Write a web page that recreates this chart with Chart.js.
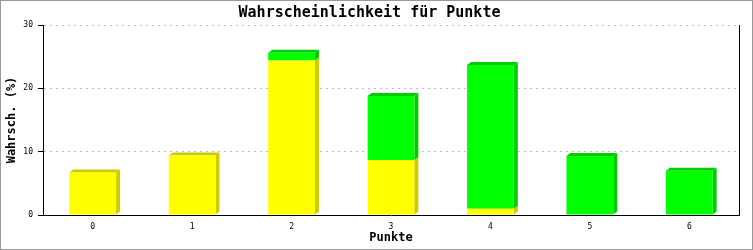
<!DOCTYPE html>
<html>
<head>
<meta charset="utf-8">
<script src="https://cdn.jsdelivr.net/npm/chart.js@4/dist/chart.umd.min.js"></script>
<style>
  body { margin: 0; background: #fff; }
</style>
</head>
<body>
<canvas id="myChart" width="753" height="250"></canvas>
<script>
// data
const categories = ['0', '1', '2', '3', '4', '5', '6'];
const yellowValues = [6.7, 9.4, 24.4, 8.7, 1.0, null, null];
const greenValues = [null, null, 1.2, 10.1, 22.7, 9.3, 7.0];
const yTicks = [0, 10, 20, 30];

const MONO = '"DejaVu Sans Mono", "Liberation Mono", monospace';
const sideColors = ['#cccc00', '#00cc00'];

// white background + grey frame
const frame = {
  id: 'frame',
  beforeDraw(chart) {
    const ctx = chart.ctx;
    ctx.save();
    ctx.fillStyle = '#fff';
    ctx.fillRect(0, 0, chart.width, chart.height);
    ctx.restore();
  },
  afterDraw(chart) {
    const ctx = chart.ctx;
    ctx.save();
    ctx.strokeStyle = '#999';
    ctx.lineWidth = 1;
    ctx.strokeRect(0.5, 0.5, chart.width - 1, chart.height - 1);
    ctx.restore();
  }
};

// fake 3d: side + top faces behind the bar fronts
const bars3d = {
  id: 'bars3d',
  beforeDatasetsDraw(chart) {
    const ctx = chart.ctx;
    const dx = 4, dy = -3;
    ctx.save();
    for (let i = 0; i < categories.length; i++) {
      let topIdx = -1;
      chart.data.datasets.forEach((ds, d) => { if (ds.data[i]) topIdx = d; });
      chart.data.datasets.forEach((ds, d) => {
        if (!ds.data[i]) return;
        const el = chart.getDatasetMeta(d).data[i];
        const p = el.getProps(['x', 'y', 'base', 'width'], true);
        const left = p.x - p.width / 2, right = p.x + p.width / 2;
        const top = Math.min(p.y, p.base), bottom = Math.max(p.y, p.base);
        ctx.fillStyle = sideColors[d];
        ctx.beginPath();
        ctx.moveTo(right, top);
        ctx.lineTo(right + dx, top + dy);
        ctx.lineTo(right + dx, bottom + dy);
        ctx.lineTo(right, bottom);
        ctx.closePath();
        ctx.fill();
        if (d === topIdx) {
          ctx.beginPath();
          ctx.moveTo(left, top);
          ctx.lineTo(left + dx, top + dy);
          ctx.lineTo(right + dx, top + dy);
          ctx.lineTo(right, top);
          ctx.closePath();
          ctx.fill();
        }
      });
    }
    ctx.restore();
  }
};

new Chart(document.getElementById('myChart'), {
  type: 'bar',
  data: {
    labels: categories,
    datasets: [
      { data: yellowValues, backgroundColor: '#ffff00', borderWidth: 0 },
      { data: greenValues, backgroundColor: '#00ff00', borderWidth: 0 }
    ]
  },
  options: {
    responsive: false,
    animation: false,
    devicePixelRatio: 1,
    layout: { padding: { left: 0, right: 14, top: 0, bottom: 0 } },
    datasets: { bar: { categoryPercentage: 1, barPercentage: 0.47 } },
    plugins: {
      legend: { display: false },
      tooltip: { enabled: false },
      title: {
        display: true,
        text: 'Wahrscheinlichkeit für Punkte',
        color: '#000',
        font: { family: MONO, size: 15, weight: 'bold' },
        padding: { top: 4, bottom: 3 }
      }
    },
    scales: {
      x: {
        stacked: true,
        grid: { display: false, drawTicks: false },
        border: { display: true, color: '#000', width: 1 },
        ticks: { color: '#000', font: { family: MONO, size: 8 }, padding: 7, maxRotation: 0 },
        title: {
          display: true, text: 'Punkte', color: '#000',
          font: { family: MONO, size: 12, weight: 'bold' },
          padding: { top: 0, bottom: 5 }
        },
        afterFit(scale) { scale.height = 35; }
      },
      y: {
        stacked: true,
        min: 0,
        max: 30,
        afterBuildTicks(scale) { scale.ticks = yTicks.map(v => ({ value: v })); },
        grid: {
          color: '#c0c0c0', tickColor: '#000', tickLength: 5, tickBorderDash: []
        },
        border: { display: true, color: '#000', width: 1, dash: [2, 4] },
        ticks: { color: '#000', font: { family: MONO, size: 8 }, padding: 5 },
        title: {
          display: true, text: 'Wahrsch. (%)', color: '#000',
          font: { family: MONO, size: 12, weight: 'bold' },
          padding: { top: 5, bottom: 0 }
        },
        afterFit(scale) { scale.width = 43; }
      },
      y2: {
        position: 'right',
        min: 0,
        max: 30,
        grid: { display: false, drawTicks: false },
        border: { display: true, color: '#000', width: 1 },
        ticks: { display: false },
        afterFit(scale) { scale.width = 0; }
      }
    }
  },
  plugins: [frame, bars3d]
});
</script>
</body>
</html>
